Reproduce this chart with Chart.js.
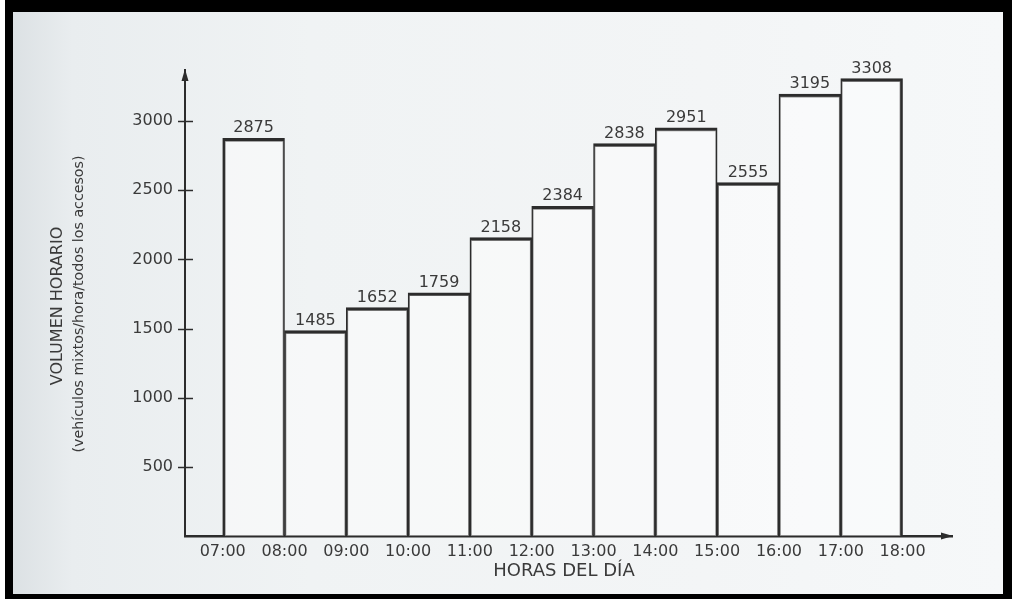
<!DOCTYPE html>
<html>
<head>
<meta charset="utf-8">
<script src="https://cdn.jsdelivr.net/npm/chart.js@4"></script>
<style>
  html, body { margin: 0; padding: 0; background: #ffffff; width: 1013px; height: 599px; overflow: hidden; }
  #frame {
    position: absolute; left: 5px; top: 0; width: 990px; height: 582px;
    border-style: solid; border-color: #000;
    border-width: 12px 9px 5px 8px;
    background: linear-gradient(to right, #dce1e4 0%, #e9edef 6%, #f0f3f4 30%, #f3f5f6 70%, #f6f8f9 100%);
  }
  #wrap { position: absolute; left: 0; top: 0; width: 1013px; height: 599px; }
</style>
</head>
<body>
<div id="frame"></div>
<div id="wrap"><canvas id="c" width="1013" height="599"></canvas></div>
<script>
// ---- data ----
const hourLabels = ['07:00','08:00','09:00','10:00','11:00','12:00','13:00','14:00','15:00','16:00','17:00','18:00'];
const intervalStart = [7, 8, 9, 10, 11, 12, 13, 14, 15, 16, 17];
const volumes = [2875, 1485, 1652, 1759, 2158, 2384, 2838, 2951, 2555, 3195, 3308];
const yTickValues = [500, 1000, 1500, 2000, 2500, 3000];
const yTitleLines = ['VOLUMEN HORARIO', '(vehículos mixtos/hora/todos los accesos)'];
const xTitle = 'HORAS DEL DÍA';

const INK = '#3a3a3a';
const LINE = '#2c2c2c';
const FONT = '"DejaVu Sans", Arial, sans-serif';

const points = intervalStart.map((h, i) => ({ x: h + 0.5, y: volumes[i] }));

const decor = {
  id: 'decor',
  afterDatasetsDraw(chart) {
    const ctx = chart.ctx;
    const xs = chart.scales.x, ys = chart.scales.y;
    const area = chart.chartArea;
    ctx.save();
    // y-axis small ticks crossing the axis
    ctx.strokeStyle = LINE;
    ctx.lineWidth = 1.5;
    yTickValues.forEach(v => {
      const py = Math.round(ys.getPixelForValue(v)) + 0.5;
      ctx.beginPath();
      ctx.moveTo(area.left - 7, py);
      ctx.lineTo(area.left + 8, py);
      ctx.stroke();
    });
    // arrowheads
    ctx.fillStyle = LINE;
    ctx.beginPath();
    ctx.moveTo(area.left, area.top - 1);
    ctx.lineTo(area.left - 3.5, area.top + 11);
    ctx.lineTo(area.left + 3.5, area.top + 11);
    ctx.closePath();
    ctx.fill();
    ctx.beginPath();
    ctx.moveTo(area.right + 1, area.bottom);
    ctx.lineTo(area.right - 11, area.bottom - 3.5);
    ctx.lineTo(area.right - 11, area.bottom + 3.5);
    ctx.closePath();
    ctx.fill();
    // value labels on top of bars
    ctx.fillStyle = INK;
    ctx.font = '16px ' + FONT;
    ctx.textAlign = 'center';
    ctx.textBaseline = 'alphabetic';
    chart.getDatasetMeta(0).data.forEach((bar, i) => {
      ctx.fillText(String(volumes[i]), bar.x, bar.y - 6);
    });
    // axis titles
    ctx.save();
    ctx.translate(58, 306);
    ctx.rotate(-Math.PI / 2);
    ctx.textBaseline = 'middle';
    ctx.font = '16px ' + FONT;
    ctx.fillText(yTitleLines[0], 0, 0);
    ctx.restore();
    ctx.save();
    ctx.translate(79, 304);
    ctx.rotate(-Math.PI / 2);
    ctx.textBaseline = 'middle';
    ctx.font = '14.2px ' + FONT;
    ctx.fillText(yTitleLines[1], 0, 0);
    ctx.restore();
    ctx.font = '18px ' + FONT;
    ctx.textBaseline = 'middle';
    ctx.fillText(xTitle, 564, 571);
    ctx.restore();
  }
};

new Chart(document.getElementById('c'), {
  type: 'bar',
  data: {
    datasets: [{
      data: points,
      backgroundColor: 'rgba(255,255,255,0.45)',
      borderColor: LINE,
      borderWidth: (c) => ({
        top: 3,
        bottom: 0,
        left: c.dataIndex === 0 ? 2.6 : 1.5,
        right: c.dataIndex === volumes.length - 1 ? 2.6 : 1.5
      }),
      borderSkipped: 'bottom',
      barPercentage: 1,
      categoryPercentage: 1
    }]
  },
  options: {
    responsive: false,
    animation: false,
    devicePixelRatio: 1,
    layout: { padding: { top: 70, right: 61, left: 0, bottom: 0 } },
    plugins: { legend: { display: false }, tooltip: { enabled: false } },
    scales: {
      x: {
        type: 'linear',
        min: 6.39,
        max: 18.8,
        offset: false,
        afterFit(s) { s.height = 63; },
        afterBuildTicks(s) { s.ticks = hourLabels.map((_, i) => ({ value: 7 + i })); },
        ticks: {
          autoSkip: false,
          maxRotation: 0,
          padding: 6,
          color: INK,
          font: { family: FONT, size: 16 },
          callback: (v) => hourLabels[Math.round(v) - 7]
        },
        grid: { display: false, drawTicks: false },
        border: { display: true, color: LINE, width: 2.5 }
      },
      y: {
        type: 'linear',
        min: 0,
        max: 3370,
        afterFit(s) { s.width = 185; },
        afterBuildTicks(s) { s.ticks = yTickValues.map(v => ({ value: v })); },
        ticks: {
          padding: 12,
          color: INK,
          font: { family: FONT, size: 16 },
          callback: (v) => String(v)
        },
        grid: { display: false, drawTicks: false },
        border: { display: true, color: LINE, width: 2 }
      }
    }
  },
  plugins: [decor]
});
</script>
</body>
</html>
